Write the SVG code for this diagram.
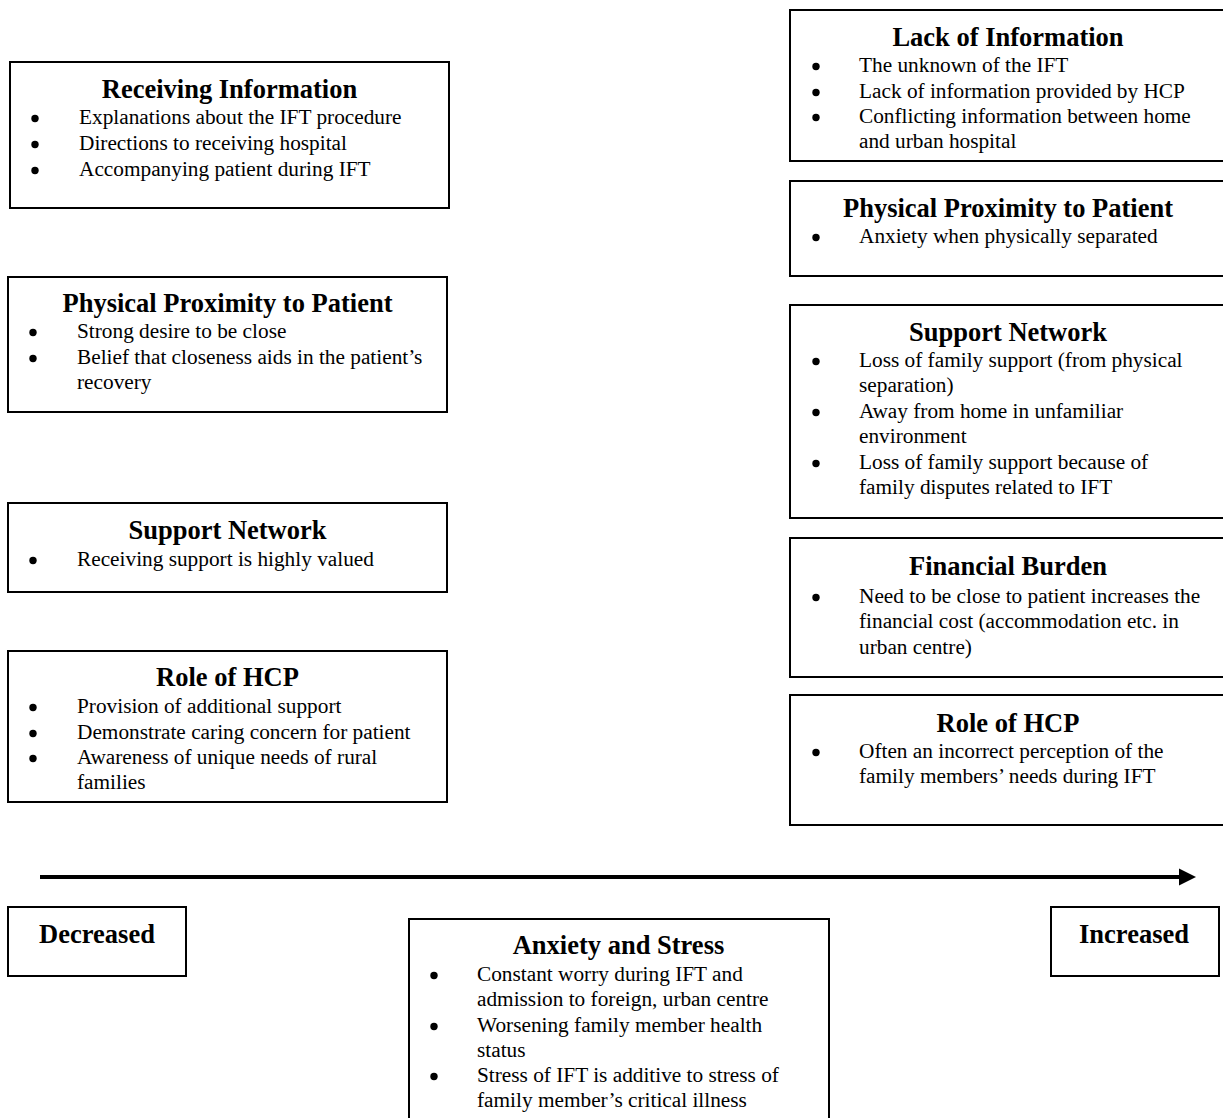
<svg xmlns="http://www.w3.org/2000/svg" width="1223" height="1118" viewBox="0 0 1223 1118">
<style>
.box{fill:#fff;stroke:#000;stroke-width:2}
text{font-family:"Liberation Serif","Times New Roman",serif;fill:#000}
.t{font-size:26.5px;font-weight:bold;text-anchor:middle}
.b{font-size:21.3px}
.dot{fill:#000}
</style>
<defs><circle id="bul" r="3.7" class="dot"/></defs>
<rect width="1223" height="1118" fill="#fff"/>
<g id="connectors">
<line x1="40" y1="877" x2="1182" y2="877" stroke="#000" stroke-width="4"/>
<polygon points="1179,868.5 1196,877 1179,885.5" fill="#000"/>
</g>
<g id="left-receiving-information">
<rect class="box" x="10" y="62" width="439" height="146"/>
<text class="t" x="229.5" y="98">Receiving Information</text>
<use href="#bul" x="35" y="118.5"/><text class="b" x="79" y="124">Explanations about the IFT procedure</text>
<use href="#bul" x="35" y="144.5"/><text class="b" x="79" y="150">Directions to receiving hospital</text>
<use href="#bul" x="35" y="170.5"/><text class="b" x="79" y="176">Accompanying patient during IFT</text>
</g>
<g id="left-physical-proximity">
<rect class="box" x="8" y="277" width="439" height="135"/>
<text class="t" x="227.5" y="312">Physical Proximity to Patient</text>
<use href="#bul" x="33" y="332.5"/><text class="b" x="77" y="338">Strong desire to be close</text>
<use href="#bul" x="33" y="358.5"/><text class="b" x="77" y="364">Belief that closeness aids in the patient’s</text>
<text class="b" x="77" y="389">recovery</text>
</g>
<g id="left-support-network">
<rect class="box" x="8" y="503" width="439" height="89"/>
<text class="t" x="227.5" y="539">Support Network</text>
<use href="#bul" x="33" y="560.5"/><text class="b" x="77" y="566">Receiving support is highly valued</text>
</g>
<g id="left-role-of-hcp">
<rect class="box" x="8" y="651" width="439" height="151"/>
<text class="t" x="227.5" y="686">Role of HCP</text>
<use href="#bul" x="33" y="707.5"/><text class="b" x="77" y="713">Provision of additional support</text>
<use href="#bul" x="33" y="733.5"/><text class="b" x="77" y="739">Demonstrate caring concern for patient</text>
<use href="#bul" x="33" y="758.5"/><text class="b" x="77" y="764">Awareness of unique needs of rural</text>
<text class="b" x="77" y="789">families</text>
</g>
<g id="right-lack-of-information">
<rect class="box" x="790" y="10" width="436" height="151"/>
<text class="t" x="1008" y="46">Lack of Information</text>
<use href="#bul" x="816" y="66.5"/><text class="b" x="859" y="72">The unknown of the IFT</text>
<use href="#bul" x="816" y="92.5"/><text class="b" x="859" y="98">Lack of information provided by HCP</text>
<use href="#bul" x="816" y="117.5"/><text class="b" x="859" y="123">Conflicting information between home</text>
<text class="b" x="859" y="148">and urban hospital</text>
</g>
<g id="right-physical-proximity">
<rect class="box" x="790" y="181" width="436" height="95"/>
<text class="t" x="1008" y="217">Physical Proximity to Patient</text>
<use href="#bul" x="816" y="237.5"/><text class="b" x="859" y="243">Anxiety when physically separated</text>
</g>
<g id="right-support-network">
<rect class="box" x="790" y="305" width="436" height="213"/>
<text class="t" x="1008" y="341">Support Network</text>
<use href="#bul" x="816" y="361.5"/><text class="b" x="859" y="367">Loss of family support (from physical</text>
<text class="b" x="859" y="392">separation)</text>
<use href="#bul" x="816" y="412.5"/><text class="b" x="859" y="418">Away from home in unfamiliar</text>
<text class="b" x="859" y="443">environment</text>
<use href="#bul" x="816" y="463.5"/><text class="b" x="859" y="469">Loss of family support because of</text>
<text class="b" x="859" y="494">family disputes related to IFT</text>
</g>
<g id="right-financial-burden">
<rect class="box" x="790" y="538" width="436" height="139"/>
<text class="t" x="1008" y="575">Financial Burden</text>
<use href="#bul" x="816" y="597.5"/><text class="b" x="859" y="603">Need to be close to patient increases the</text>
<text class="b" x="859" y="628">financial cost (accommodation etc. in</text>
<text class="b" x="859" y="654">urban centre)</text>
</g>
<g id="right-role-of-hcp">
<rect class="box" x="790" y="695" width="436" height="130"/>
<text class="t" x="1008" y="732">Role of HCP</text>
<use href="#bul" x="816" y="752.5"/><text class="b" x="859" y="758">Often an incorrect perception of the</text>
<text class="b" x="859" y="783">family members’ needs during IFT</text>
</g>
<g id="decreased">
<rect class="box" x="8" y="907" width="178" height="69"/>
<text class="t" x="97" y="943">Decreased</text>
</g>
<g id="increased">
<rect class="box" x="1051" y="907" width="168" height="69"/>
<text class="t" x="1134" y="943">Increased</text>
</g>
<g id="anxiety-and-stress">
<rect class="box" x="409" y="919" width="420" height="210"/>
<text class="t" x="618.5" y="954">Anxiety and Stress</text>
<use href="#bul" x="434" y="975.5"/><text class="b" x="477" y="981">Constant worry during IFT and</text>
<text class="b" x="477" y="1006">admission to foreign, urban centre</text>
<use href="#bul" x="434" y="1026.5"/><text class="b" x="477" y="1032">Worsening family member health</text>
<text class="b" x="477" y="1057">status</text>
<use href="#bul" x="434" y="1076.5"/><text class="b" x="477" y="1082">Stress of IFT is additive to stress of</text>
<text class="b" x="477" y="1107">family member’s critical illness</text>
</g>
</svg>
